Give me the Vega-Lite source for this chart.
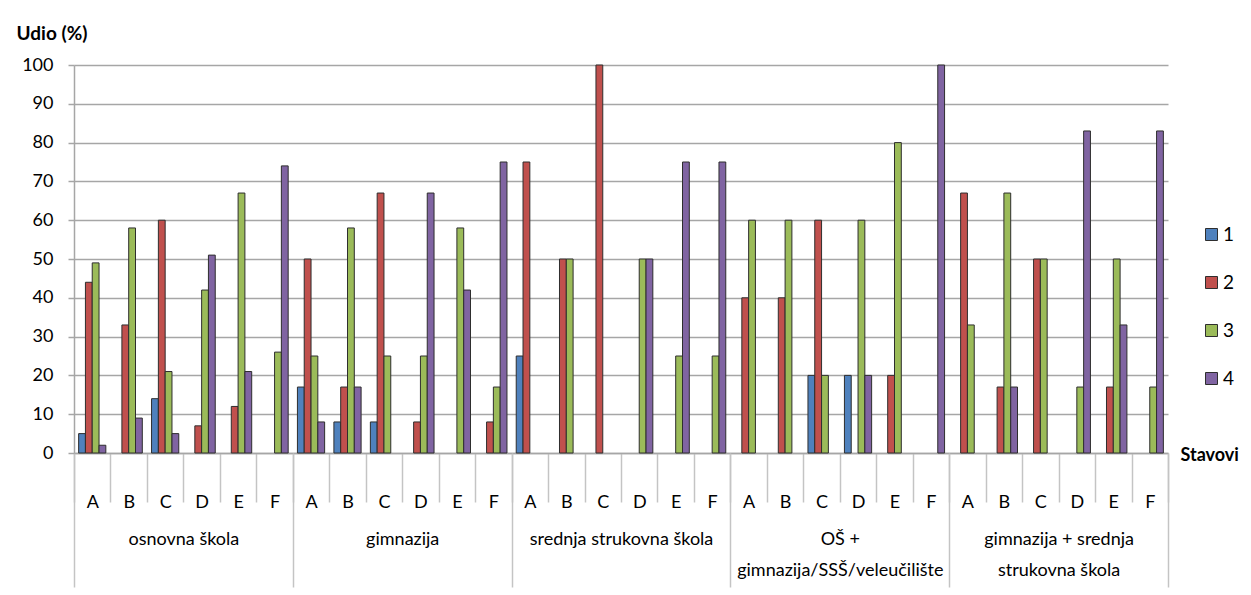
{
  "$schema": "https://vega.github.io/schema/vega-lite/v6.json",
  "width": 1094,
  "height": 388,
  "autosize": {"type": "none"},
  "padding": {"left": 74, "top": 65, "right": 83, "bottom": 142},
  "background": "white",
  "config": {
    "font": "Lato",
    "view": {"stroke": null},
    "axis": {"labelColor": "#000", "titleColor": "#000", "labelLimit": 0},
    "legend": {"labelColor": "#000"}
  },
  "data": {
    "values": [
      {"g": "osnovna škola", "k": "1A", "s": "1", "v": 5},
      {"g": "osnovna škola", "k": "1A", "s": "2", "v": 44},
      {"g": "osnovna škola", "k": "1A", "s": "3", "v": 49},
      {"g": "osnovna škola", "k": "1A", "s": "4", "v": 2},
      {"g": "osnovna škola", "k": "1B", "s": "2", "v": 33},
      {"g": "osnovna škola", "k": "1B", "s": "3", "v": 58},
      {"g": "osnovna škola", "k": "1B", "s": "4", "v": 9},
      {"g": "osnovna škola", "k": "1C", "s": "1", "v": 14},
      {"g": "osnovna škola", "k": "1C", "s": "2", "v": 60},
      {"g": "osnovna škola", "k": "1C", "s": "3", "v": 21},
      {"g": "osnovna škola", "k": "1C", "s": "4", "v": 5},
      {"g": "osnovna škola", "k": "1D", "s": "2", "v": 7},
      {"g": "osnovna škola", "k": "1D", "s": "3", "v": 42},
      {"g": "osnovna škola", "k": "1D", "s": "4", "v": 51},
      {"g": "osnovna škola", "k": "1E", "s": "2", "v": 12},
      {"g": "osnovna škola", "k": "1E", "s": "3", "v": 67},
      {"g": "osnovna škola", "k": "1E", "s": "4", "v": 21},
      {"g": "osnovna škola", "k": "1F", "s": "3", "v": 26},
      {"g": "osnovna škola", "k": "1F", "s": "4", "v": 74},
      {"g": "gimnazija", "k": "2A", "s": "1", "v": 17},
      {"g": "gimnazija", "k": "2A", "s": "2", "v": 50},
      {"g": "gimnazija", "k": "2A", "s": "3", "v": 25},
      {"g": "gimnazija", "k": "2A", "s": "4", "v": 8},
      {"g": "gimnazija", "k": "2B", "s": "1", "v": 8},
      {"g": "gimnazija", "k": "2B", "s": "2", "v": 17},
      {"g": "gimnazija", "k": "2B", "s": "3", "v": 58},
      {"g": "gimnazija", "k": "2B", "s": "4", "v": 17},
      {"g": "gimnazija", "k": "2C", "s": "1", "v": 8},
      {"g": "gimnazija", "k": "2C", "s": "2", "v": 67},
      {"g": "gimnazija", "k": "2C", "s": "3", "v": 25},
      {"g": "gimnazija", "k": "2D", "s": "2", "v": 8},
      {"g": "gimnazija", "k": "2D", "s": "3", "v": 25},
      {"g": "gimnazija", "k": "2D", "s": "4", "v": 67},
      {"g": "gimnazija", "k": "2E", "s": "3", "v": 58},
      {"g": "gimnazija", "k": "2E", "s": "4", "v": 42},
      {"g": "gimnazija", "k": "2F", "s": "2", "v": 8},
      {"g": "gimnazija", "k": "2F", "s": "3", "v": 17},
      {"g": "gimnazija", "k": "2F", "s": "4", "v": 75},
      {"g": "srednja strukovna škola", "k": "3A", "s": "1", "v": 25},
      {"g": "srednja strukovna škola", "k": "3A", "s": "2", "v": 75},
      {"g": "srednja strukovna škola", "k": "3B", "s": "2", "v": 50},
      {"g": "srednja strukovna škola", "k": "3B", "s": "3", "v": 50},
      {"g": "srednja strukovna škola", "k": "3C", "s": "2", "v": 100},
      {"g": "srednja strukovna škola", "k": "3D", "s": "3", "v": 50},
      {"g": "srednja strukovna škola", "k": "3D", "s": "4", "v": 50},
      {"g": "srednja strukovna škola", "k": "3E", "s": "3", "v": 25},
      {"g": "srednja strukovna škola", "k": "3E", "s": "4", "v": 75},
      {"g": "srednja strukovna škola", "k": "3F", "s": "3", "v": 25},
      {"g": "srednja strukovna škola", "k": "3F", "s": "4", "v": 75},
      {"g": "OŠ +|gimnazija/SSŠ/veleučilište", "k": "4A", "s": "2", "v": 40},
      {"g": "OŠ +|gimnazija/SSŠ/veleučilište", "k": "4A", "s": "3", "v": 60},
      {"g": "OŠ +|gimnazija/SSŠ/veleučilište", "k": "4B", "s": "2", "v": 40},
      {"g": "OŠ +|gimnazija/SSŠ/veleučilište", "k": "4B", "s": "3", "v": 60},
      {"g": "OŠ +|gimnazija/SSŠ/veleučilište", "k": "4C", "s": "1", "v": 20},
      {"g": "OŠ +|gimnazija/SSŠ/veleučilište", "k": "4C", "s": "2", "v": 60},
      {"g": "OŠ +|gimnazija/SSŠ/veleučilište", "k": "4C", "s": "3", "v": 20},
      {"g": "OŠ +|gimnazija/SSŠ/veleučilište", "k": "4D", "s": "1", "v": 20},
      {"g": "OŠ +|gimnazija/SSŠ/veleučilište", "k": "4D", "s": "3", "v": 60},
      {"g": "OŠ +|gimnazija/SSŠ/veleučilište", "k": "4D", "s": "4", "v": 20},
      {"g": "OŠ +|gimnazija/SSŠ/veleučilište", "k": "4E", "s": "2", "v": 20},
      {"g": "OŠ +|gimnazija/SSŠ/veleučilište", "k": "4E", "s": "3", "v": 80},
      {"g": "OŠ +|gimnazija/SSŠ/veleučilište", "k": "4F", "s": "4", "v": 100},
      {"g": "gimnazija + srednja|strukovna škola", "k": "5A", "s": "2", "v": 67},
      {"g": "gimnazija + srednja|strukovna škola", "k": "5A", "s": "3", "v": 33},
      {"g": "gimnazija + srednja|strukovna škola", "k": "5B", "s": "2", "v": 17},
      {"g": "gimnazija + srednja|strukovna škola", "k": "5B", "s": "3", "v": 67},
      {"g": "gimnazija + srednja|strukovna škola", "k": "5B", "s": "4", "v": 17},
      {"g": "gimnazija + srednja|strukovna škola", "k": "5C", "s": "2", "v": 50},
      {"g": "gimnazija + srednja|strukovna škola", "k": "5C", "s": "3", "v": 50},
      {"g": "gimnazija + srednja|strukovna škola", "k": "5D", "s": "3", "v": 17},
      {"g": "gimnazija + srednja|strukovna škola", "k": "5D", "s": "4", "v": 83},
      {"g": "gimnazija + srednja|strukovna škola", "k": "5E", "s": "2", "v": 17},
      {"g": "gimnazija + srednja|strukovna škola", "k": "5E", "s": "3", "v": 50},
      {"g": "gimnazija + srednja|strukovna škola", "k": "5E", "s": "4", "v": 33},
      {"g": "gimnazija + srednja|strukovna škola", "k": "5F", "s": "3", "v": 17},
      {"g": "gimnazija + srednja|strukovna škola", "k": "5F", "s": "4", "v": 83}
    ]
  },
  "encoding": {
    "y": {
      "field": "v",
      "type": "quantitative",
      "scale": {"domain": [0, 100], "nice": false},
      "axis": {
        "title": "Udio (%)",
        "titleAngle": 0,
        "titleX": -58,
        "titleY": -32,
        "titleAlign": "left",
        "titleBaseline": "middle",
        "titleFontWeight": "bold",
        "titleFontSize": 19,
        "values": [0,10,20,30,40,50,60,70,80,90,100],
        "labelOverlap": false,
        "tickSize": 6,
        "tickColor": "#a6a6a6",
        "tickWidth": 1.5,
        "domainColor": "#a6a6a6",
        "domainWidth": 1.5,
        "gridColor": "#a6a6a6",
        "gridWidth": 1.5,
        "labelFontSize": 18,
        "labelPadding": 15
      }
    }
  },
  "layer": [
    {
      "mark": {"type": "bar", "stroke": "#2e2e2e", "strokeWidth": 1},
      "encoding": {
        "x": {
          "field": "k",
          "type": "nominal",
          "scale": {
            "domain": ["1A","1B","1C","1D","1E","1F","2A","2B","2C","2D","2E","2F","3A","3B","3C","3D","3E","3F","4A","4B","4C","4D","4E","4F","5A","5B","5C","5D","5E","5F"],
            "paddingInner": 0,
            "paddingOuter": 0
          },
          "axis": {
            "orient": "bottom",
            "title": "Stavovi",
            "titleX": 1106,
            "titleY": 2,
            "titleAlign": "left",
            "titleBaseline": "middle",
            "titleFontWeight": "bold",
            "titleFontSize": 18,
            "labelExpr": "substring(datum.label, 1)",
            "labelAngle": 0,
            "labelFontSize": 18,
            "labelPadding": -9,
            "labelOverlap": false,
            "tickBand": "extent",
            "tickSize": 49,
            "tickColor": "#c4c4c4",
            "tickWidth": 1.5,
            "domainColor": "#a6a6a6",
            "domainWidth": 1.5
          }
        },
        "xOffset": {
          "field": "s",
          "type": "nominal",
          "scale": {"domain": ["1","2","3","4"], "paddingInner": 0, "paddingOuter": 0.68}
        },
        "color": {
          "field": "s",
          "type": "nominal",
          "scale": {"domain": ["1","2","3","4"], "range": ["#4F81BD","#C0504D","#9BBB59","#8064A2"]},
          "legend": {
            "title": null,
            "orient": "none",
            "legendX": 1128,
            "legendY": 160,
            "symbolType": "square",
            "symbolSize": 144,
            "symbolStrokeColor": "#2e2e2e",
            "symbolStrokeWidth": 1,
            "symbolOpacity": 1,
            "labelFontSize": 19,
            "labelOffset": 2,
            "rowPadding": 28
          }
        }
      }
    },
    {
      "mark": {"type": "point", "opacity": 0},
      "encoding": {
        "x": {
          "field": "g",
          "type": "nominal",
          "scale": {
            "type": "band",
            "domain": ["osnovna škola","gimnazija","srednja strukovna škola","OŠ +|gimnazija/SSŠ/veleučilište","gimnazija + srednja|strukovna škola"],
            "paddingInner": 0,
            "paddingOuter": 0
          },
          "axis": {
            "orient": "bottom",
            "title": null,
            "domain": false,
            "tickBand": "extent",
            "tickSize": 134,
            "tickColor": "#c4c4c4",
            "tickWidth": 1.5,
            "labelExpr": "split(datum.label, '|')",
            "labelAngle": 0,
            "labelFontSize": 18,
            "labelLineHeight": 31,
            "labelPadding": -57,
            "labelOverlap": false
          }
        }
      }
    }
  ],
  "resolve": {"scale": {"x": "independent"}, "axis": {"x": "independent"}}
}
